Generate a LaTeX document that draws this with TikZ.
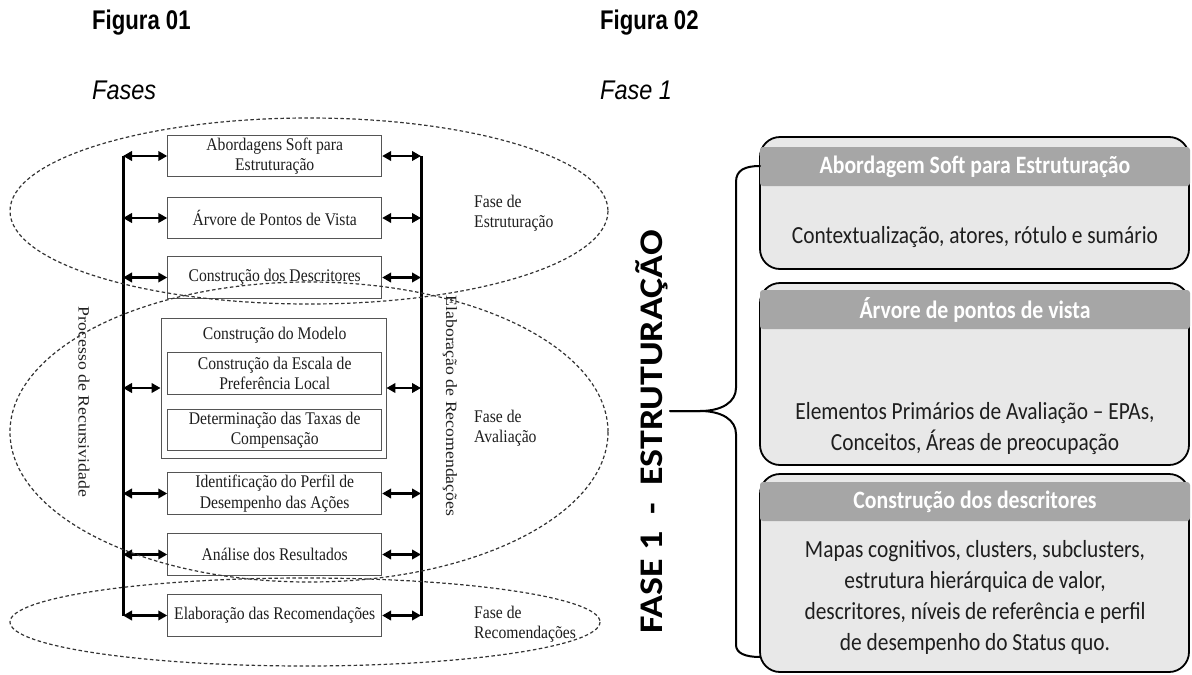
\documentclass[tikz,border=0pt]{standalone}
\usepackage{fontspec}
\usetikzlibrary{arrows.meta}
\newfontfamily\serA[FakeStretch=0.88]{Liberation Serif}
\newfontfamily\serR[FakeStretch=1.13]{Liberation Serif}
\newfontfamily\calA[FakeStretch=0.87]{Carlito}
\newfontfamily\calR[FakeStretch=1.15]{Carlito}
\newfontfamily\ariA[FakeStretch=0.87]{Liberation Sans}
\newfontfamily\ariN[FakeStretch=0.82]{Liberation Sans}
\definecolor{hdr}{HTML}{A6A6A6}
\definecolor{bdy}{HTML}{E8E8E8}
\definecolor{bxl}{HTML}{555555}
\definecolor{txt}{HTML}{1E1E1E}
\definecolor{dsh}{HTML}{333333}
\begin{document}
\begin{tikzpicture}[x=1pt,y=-1pt,
  lfont/.style={font=\serA\fontsize{17.8}{20.5}\selectfont},
  lbox/.style={draw=bxl,line width=0.9pt,minimum width=214pt,minimum height=41.5pt,
    inner sep=0pt,align=center,lfont,text=txt},
  dbl/.style={line width=2.4pt,{Triangle[length=9pt,width=9.5pt]}-{Triangle[length=9pt,width=9.5pt]}},
  vline/.style={line width=3pt},
  ell/.style={draw=dsh,line width=1.2pt,dash pattern=on 3.5pt off 2.5pt},
  lab/.style={lfont,text=txt,align=left,anchor=west,inner sep=0pt},
  rlab/.style={font=\serR\fontsize{15.7}{18}\selectfont,text=txt,inner sep=0pt,rotate=-90},
  rbody/.style={draw=black,line width=1.8pt,fill=bdy,rounded corners=20pt,minimum width=429pt,inner sep=0pt},
  rhdr/.style={fill=hdr,rounded corners=3pt,minimum width=430pt,minimum height=39pt,inner sep=0pt,
    text=white,font=\calA\bfseries\fontsize{25}{30}\selectfont},
  rtxt/.style={align=center,text=txt,inner sep=0pt,font=\calA\fontsize{24.6}{31}\selectfont},
  ttl/.style={anchor=west,inner sep=0pt,text=black,font=\ariN\bfseries\fontsize{27}{30}\selectfont},
  sttl/.style={anchor=west,inner sep=0pt,text=black,font=\ariA\itshape\fontsize{27}{30}\selectfont},
  brace/.style={draw=black,line width=2pt,line cap=round}
]
\useasboundingbox[fill=white] (0,0) rectangle (1192,675);

% titles
\node[ttl] (f1) at (92,23) {Figura 01};
\node[sttl] (s1) at (92,90) {Fases};
\node[ttl] (f2) at (600,23) {Figura 02};
\node[sttl] (s2) at (600,90) {Fase 1};

% ----- Figure 01 -----
\node[lbox] (b1) at (274.7,156) {Abordagens Soft para\\Estruturação};
\node[lbox] (b2) at (274.7,218) {Árvore de Pontos de Vista};
\node[lbox] (b3) at (274.7,277.5) {Construção dos Descritores};
\node[draw=bxl,line width=0.9pt,minimum width=225pt,minimum height=140pt,inner sep=0pt] (bm) at (273.5,388) {};
\node[lfont,text=txt,inner sep=0pt] (bmt) at (274.7,335) {Construção do Modelo};
\node[lbox] (bm1) at (274.7,373.5) {Construção da Escala de\\Preferência Local};
\node[lbox] (bm2) at (274.7,430) {Determinação das Taxas de\\Compensação};
\node[lbox] (b4) at (274.7,493.5) {Identificação do Perfil de\\Desempenho das Ações};
\node[lbox] (b5) at (274.7,554.5) {Análise dos Resultados};
\node[lbox] (b6) at (274.7,615.5) {Elaboração das Recomendações};

\coordinate (LT) at (123,156);
\coordinate (LB) at (123,616);
\coordinate (RT) at (421,156);
\coordinate (RB) at (421,616);
\draw[vline] (LT) -- (LB);
\draw[vline] (RT) -- (RB);
\foreach \b in {b1,b2,b3,bm,b4,b5,b6}{
  \draw[dbl] (\b.west -| LT) -- (\b.west);
  \draw[dbl] (\b.east) -- (\b.east -| RT);
}

\node[rlab] (proc) at (84,402) {Processo de Recursividade};
\node[rlab] (elab) at (450,406) {Elaboração de Recomendações};

\node[lab] (fe) at (474,213) {Fase de\\Estruturação};
\node[lab] (fa) at (474,428) {Fase de\\Avaliação};
\node[lab] (fr) at (474,624) {Fase de\\Recomendações};

\draw[ell] (309,211) ellipse [x radius=299, y radius=93];
\draw[ell] (309,432) ellipse [x radius=299, y radius=150];
\draw[ell] (305,622) ellipse [x radius=295, y radius=44];

% ----- Figure 02 -----
\node[rbody,minimum height=132pt] (A) at (974.5,203) {};
\node[rhdr] (Ah) at (975,166.5) {Abordagem Soft para Estruturação};
\node[rtxt] (At) at (975,237) {Contextualização, atores, rótulo e sumário};

\node[rbody,minimum height=182pt] (B) at (974.5,374) {};
\node[rhdr] (Bh) at (975,309.5) {Árvore de pontos de vista};
\node[rtxt] (Bt) at (975,429) {Elementos Primários de Avaliação – EPAs,\\Conceitos, Áreas de preocupação};

\node[rbody,minimum height=198pt] (C) at (974.5,573) {};
\node[rhdr] (Ch) at (975,501.5) {Construção dos descritores};
\node[rtxt] (Ct) at (975,597) {Mapas cognitivos, clusters, subclusters,\\estrutura hierárquica de valor,\\descritores, níveis de referência e perfil\\de desempenho do Status quo.};

\coordinate (brT) at (760,166);
\coordinate (brM) at (670,411);
\coordinate (brB) at (760,657);
\draw[brace] (brT) .. controls (745,166) and (736,170) .. (736,182) -- (736,388)
  .. controls (736,402) and (722,411) .. (700,411) -- (brM);
\draw[brace] (brM) -- (700,411) .. controls (722,411) and (736,420) .. (736,434)
  -- (736,645) .. controls (736,653) and (745,657) .. (brB);

\node[rotate=90,inner sep=0pt,text=black,font=\calR\bfseries\fontsize{33}{36}\selectfont] (fase) at (652,432) {FASE 1~ -~ ESTRUTURAÇÃO};
\end{tikzpicture}
\end{document}
